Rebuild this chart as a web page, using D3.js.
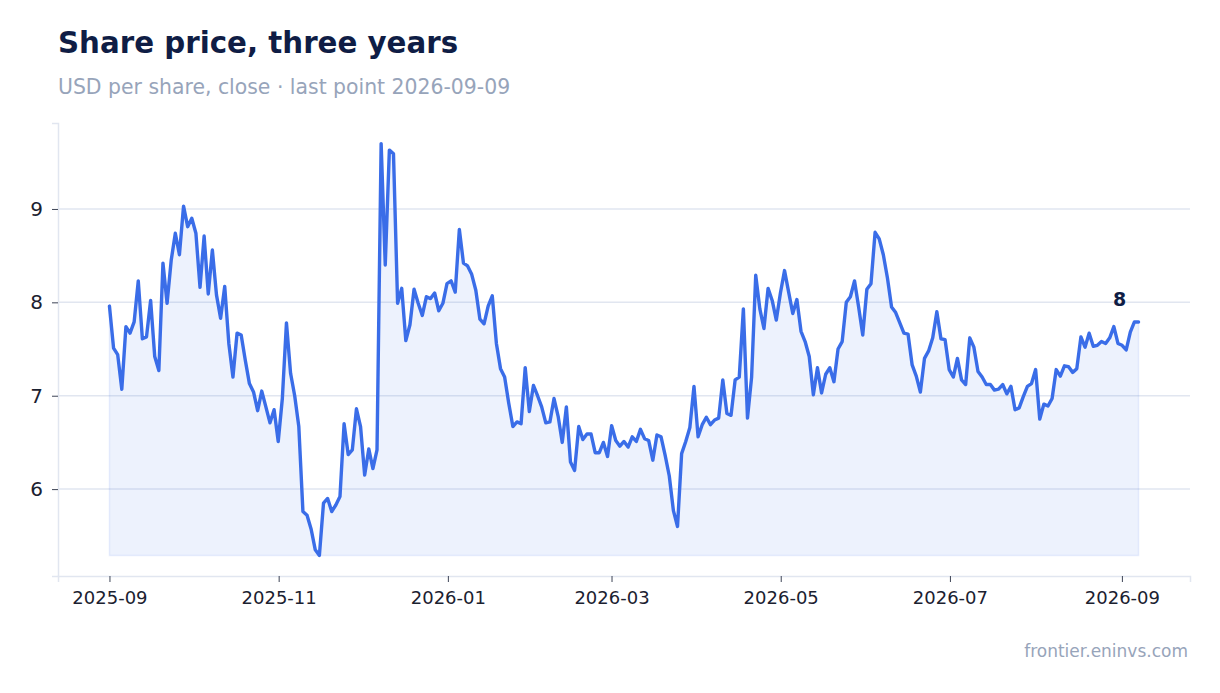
<!DOCTYPE html>
<html>
<head>
<meta charset="utf-8">
<script src="https://cdn.jsdelivr.net/npm/d3@7"></script>
<style>
  body { margin: 0; background: #ffffff; font-family: "DejaVu Sans", sans-serif; overflow: hidden; }
  svg { display: block; }
</style>
</head>
<body>
<svg id="chart"></svg>
<script>
const width = 1220;
const height = 693;
const margin = { top: 123, right: 30, bottom: 117, left: 58 };
const innerWidth = width - margin.left - margin.right;
const innerHeight = height - margin.top - margin.bottom;

const lineColor = "#3a6de8";
const gridColor = "#e1e6f0";
const textColor = "#1b2130";
const titleColor = "#0f1d45";
const mutedColor = "#97a4ba";

// first and last close, points are evenly spaced between them
const firstDate = "2025-09-01";
const lastDate = "2026-09-07";

// closing price, USD per share
const closes = [
  7.96, 7.51, 7.44, 7.07, 7.74, 7.67, 7.79, 8.23, 7.61, 7.63,
  8.02, 7.42, 7.27, 8.42, 7.99, 8.45, 8.74, 8.51, 9.03, 8.81,
  8.90, 8.74, 8.16, 8.71, 8.09, 8.56, 8.08, 7.83, 8.17, 7.56,
  7.20, 7.67, 7.65, 7.38, 7.13, 7.04, 6.84, 7.05, 6.88, 6.71,
  6.85, 6.51, 6.97, 7.78, 7.24, 7.00, 6.67, 5.76, 5.72, 5.57,
  5.35, 5.29, 5.85, 5.90, 5.76, 5.83, 5.92, 6.70, 6.37, 6.42,
  6.86, 6.67, 6.15, 6.43, 6.22, 6.42, 9.70, 8.40, 9.63, 9.59,
  7.99, 8.15, 7.59, 7.76, 8.14, 7.99, 7.86, 8.06, 8.04, 8.10,
  7.91, 7.99, 8.20, 8.23, 8.11, 8.78, 8.42, 8.39, 8.30, 8.13,
  7.82, 7.77, 7.96, 8.07, 7.56, 7.29, 7.20, 6.92, 6.67, 6.72,
  6.70, 7.30, 6.83, 7.11, 7.00, 6.88, 6.71, 6.72, 6.97, 6.78,
  6.50, 6.88, 6.29, 6.20, 6.67, 6.53, 6.59, 6.59, 6.39, 6.39,
  6.50, 6.35, 6.68, 6.52, 6.46, 6.51, 6.45, 6.56, 6.51, 6.64,
  6.54, 6.52, 6.31, 6.58, 6.56, 6.36, 6.14, 5.77, 5.60, 6.38,
  6.51, 6.66, 7.10, 6.56, 6.69, 6.77, 6.69, 6.74, 6.76, 7.17,
  6.81, 6.79, 7.17, 7.20, 7.93, 6.76, 7.20, 8.29, 7.93, 7.72,
  8.15, 8.02, 7.81, 8.10, 8.34, 8.11, 7.88, 8.03, 7.69, 7.58,
  7.42, 7.01, 7.30, 7.03, 7.23, 7.30, 7.15, 7.50, 7.58, 8.00,
  8.06, 8.23, 7.95, 7.65, 8.14, 8.20, 8.75, 8.68, 8.51, 8.26,
  7.95, 7.89, 7.78, 7.67, 7.66, 7.33, 7.21, 7.04, 7.40, 7.48,
  7.62, 7.90, 7.61, 7.60, 7.28, 7.20, 7.40, 7.17, 7.12, 7.62,
  7.52, 7.26, 7.20, 7.12, 7.12, 7.06, 7.07, 7.12, 7.02, 7.10,
  6.85, 6.87, 6.99, 7.10, 7.13, 7.28, 6.75, 6.91, 6.89, 6.97,
  7.28, 7.21, 7.32, 7.31, 7.25, 7.29, 7.63, 7.52, 7.67, 7.53,
  7.54, 7.58, 7.56, 7.62, 7.74, 7.56, 7.54, 7.49, 7.68, 7.79,
  7.79
];

const yTicks = [6, 7, 8, 9];
const xTickLabels = ["2025-09", "2025-11", "2026-01", "2026-03", "2026-05", "2026-07", "2026-09"];

const parseDay = d3.utcParse("%Y-%m-%d");
const parseMonth = d3.utcParse("%Y-%m");
const t0 = parseDay(firstDate).getTime();
const t1 = parseDay(lastDate).getTime();
const step = (t1 - t0) / (closes.length - 1);

const data = closes.map((v, i) => ({ date: new Date(t0 + i * step), value: v }));

const svg = d3.select("#chart")
    .attr("width", width)
    .attr("height", height);

// 5% padding on both axes
const xPad = (t1 - t0) * 0.05;
const xScale = d3.scaleUtc()
    .domain([new Date(t0 - xPad), new Date(t1 + xPad)])
    .range([margin.left, margin.left + innerWidth]);

const minV = d3.min(closes);
const maxV = d3.max(closes);
const yPad = (maxV - minV) * 0.05;
const yScale = d3.scaleLinear()
    .domain([minV - yPad, maxV + yPad])
    .range([margin.top + innerHeight, margin.top]);

// title + subtitle
svg.append("text")
    .attr("x", 58).attr("y", 53)
    .attr("fill", titleColor)
    .attr("font-size", 29.3)
    .attr("font-weight", "bold")
    .text("Share price, three years");

svg.append("text")
    .attr("x", 58).attr("y", 94)
    .attr("fill", mutedColor)
    .attr("font-size", 20.4)
    .text("USD per share, close \u00b7 last point 2026-09-09");

// gridlines
svg.append("g")
    .selectAll("line")
    .data(yTicks)
    .join("line")
    .attr("x1", margin.left)
    .attr("x2", margin.left + innerWidth)
    .attr("y1", d => yScale(d))
    .attr("y2", d => yScale(d))
    .attr("stroke", gridColor)
    .attr("stroke-width", 1.5);

// area under the line, down to the lowest close
const area = d3.area()
    .x(d => xScale(d.date))
    .y0(yScale(minV))
    .y1(d => yScale(d.value));

svg.append("path")
    .datum(data)
    .attr("d", area)
    .attr("fill", lineColor)
    .attr("fill-opacity", 0.09)
    .attr("stroke", lineColor)
    .attr("stroke-opacity", 0.1)
    .attr("stroke-width", 1.5);

const line = d3.line()
    .x(d => xScale(d.date))
    .y(d => yScale(d.value));

svg.append("path")
    .datum(data)
    .attr("d", line)
    .attr("fill", "none")
    .attr("stroke", lineColor)
    .attr("stroke-width", 3.4)
    .attr("stroke-linejoin", "round")
    .attr("stroke-linecap", "round");

// axes
const yAxis = svg.append("g")
    .attr("transform", `translate(${margin.left},0)`)
    .call(d3.axisLeft(yScale).tickValues(yTicks).tickSize(6).tickPadding(9).tickFormat(d3.format("d")));

const xAxis = svg.append("g")
    .attr("transform", `translate(0,${margin.top + innerHeight})`)
    .call(d3.axisBottom(xScale)
        .tickValues(xTickLabels.map(parseMonth))
        .tickSize(6).tickPadding(9)
        .tickFormat(d3.utcFormat("%Y-%m")));

[yAxis, xAxis].forEach(g => {
    g.select(".domain").attr("stroke", gridColor).attr("stroke-width", 1.5);
    g.selectAll(".tick line").attr("stroke", "#3d4456");
    g.selectAll(".tick text")
        .attr("fill", textColor)
        .attr("font-family", "DejaVu Sans, sans-serif");
});
yAxis.selectAll(".tick text").attr("font-size", 20);
xAxis.selectAll(".tick text").attr("font-size", 18);

// last value label
const last = data[data.length - 1];
svg.append("text")
    .attr("x", xScale(last.date) - 19)
    .attr("y", yScale(last.value) - 16)
    .attr("text-anchor", "middle")
    .attr("fill", titleColor)
    .attr("font-size", 19)
    .attr("font-weight", "bold")
    .text(d3.format(".0f")(last.value));

// source
svg.append("text")
    .attr("x", 1188).attr("y", 657)
    .attr("text-anchor", "end")
    .attr("fill", mutedColor)
    .attr("font-size", 17)
    .text("frontier.eninvs.com");
</script>
</body>
</html>
